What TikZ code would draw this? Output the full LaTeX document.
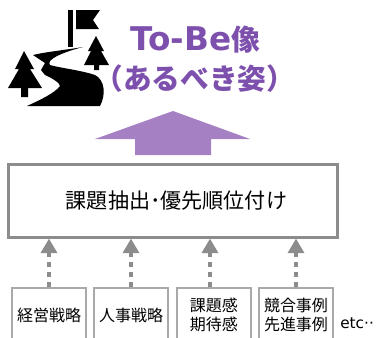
\documentclass[tikz,border=0pt]{standalone}
\usepackage{fontspec}
\setmainfont{Noto Sans CJK JP}
\newfontfamily\latinfont{DejaVu Sans}
\usetikzlibrary{arrows.meta}
\definecolor{framegray}{HTML}{8C8C8C}
\definecolor{titlepurple}{HTML}{7E50AE}
\definecolor{arrowpurple}{HTML}{A580C3}
\tikzset{
  srcbox/.style={draw=framegray!75,line width=1.5pt,minimum width=56pt,minimum height=70pt,inner sep=0pt},
  srctext/.style={font=\fontsize{12}{14.5}\selectfont,align=center},
  feed/.style={draw=framegray,line width=3.5pt,dash pattern=on 4pt off 3.5pt,-{Triangle[length=11pt,width=12pt]}},
}
\begin{document}
\begin{tikzpicture}[x=0.75pt,y=-0.75pt]
\useasboundingbox (0,0) rectangle (376,337);
\clip (0,0) rectangle (376,337);

% title
\node[text=titlepurple,font=\fontsize{21.5}{29}\selectfont\bfseries,align=center] (title) at (195,59.5)
  {{\latinfont\fontsize{24.5}{29}\selectfont To-Be}像\\（あるべき姿）};

% summit icon
\fill (68,10) rectangle (73,47);
\fill (76,10) -- (100,10) -- (93,20) -- (99,29) -- (76,29) -- cycle;
\fill (96,36) -- (104,51) -- (101,51) -- (109,65) -- (99,65) -- (99,70) -- (94,70) -- (94,65) -- (84,65) -- (91,51) -- (88,51) -- cycle;
\fill (24,51) -- (34,69) -- (30,69) -- (42,88) -- (28,88) -- (28,97) -- (21,97) -- (21,88) -- (8,88) -- (19,69) -- (15,69) -- cycle;
\fill (83,47) .. controls (65,50) and (45,52) .. (33,55) -- (45,63) -- (41,70) -- (45,75)
  .. controls (52,78) and (60,83) .. (60,86) .. controls (55,93) and (40,100) .. (27,106)
  -- (100,106) .. controls (106,95) and (105,80) .. (95,75)
  .. controls (80,70) and (60,68) .. (50,65) .. controls (46,60) and (60,53) .. (83,47) -- cycle;

% big arrow
\fill[arrowpurple] (173,111) -- (250,139) -- (211,139) -- (211,155) -- (135,155) -- (135,139) -- (95,139) -- cycle;

% main box
\node[draw=framegray,line width=1.8pt,minimum width=247pt,minimum height=54.5pt] (main) at (173,201) {};
\node[font=\fontsize{15.8}{19}\selectfont] (maintext) at (176.5,201) {課題抽出･優先順位付け};

% source boxes
\node[srcbox] (strategy) at (49,335) {};
\node[srcbox] (hr) at (131,335) {};
\node[srcbox] (issue) at (214,335) {};
\node[srcbox] (bench) at (296,335) {};

\node[srctext] (strategytext) at (49,315) {経営戦略};
\node[srctext] (hrtext) at (131,315) {人事戦略};
\node[srctext] (issuetext) at (214,315) {課題感\\期待感};
\node[srctext] (benchtext) at (296,315) {競合事例\\先進事例};
\node[font=\fontsize{11.5}{13}\selectfont\latinfont,anchor=west,inner sep=0pt] (etc) at (340,323) {etc··};

% feeds
\draw[feed] (strategy.north) -- (strategy.north |- main.south);
\draw[feed] (hr.north) -- (hr.north |- main.south);
\draw[feed] ([xshift=-3pt]issue.north) -- ([xshift=-3pt]issue.north |- main.south);
\draw[feed] (bench.north) -- (bench.north |- main.south);
\end{tikzpicture}
\end{document}
